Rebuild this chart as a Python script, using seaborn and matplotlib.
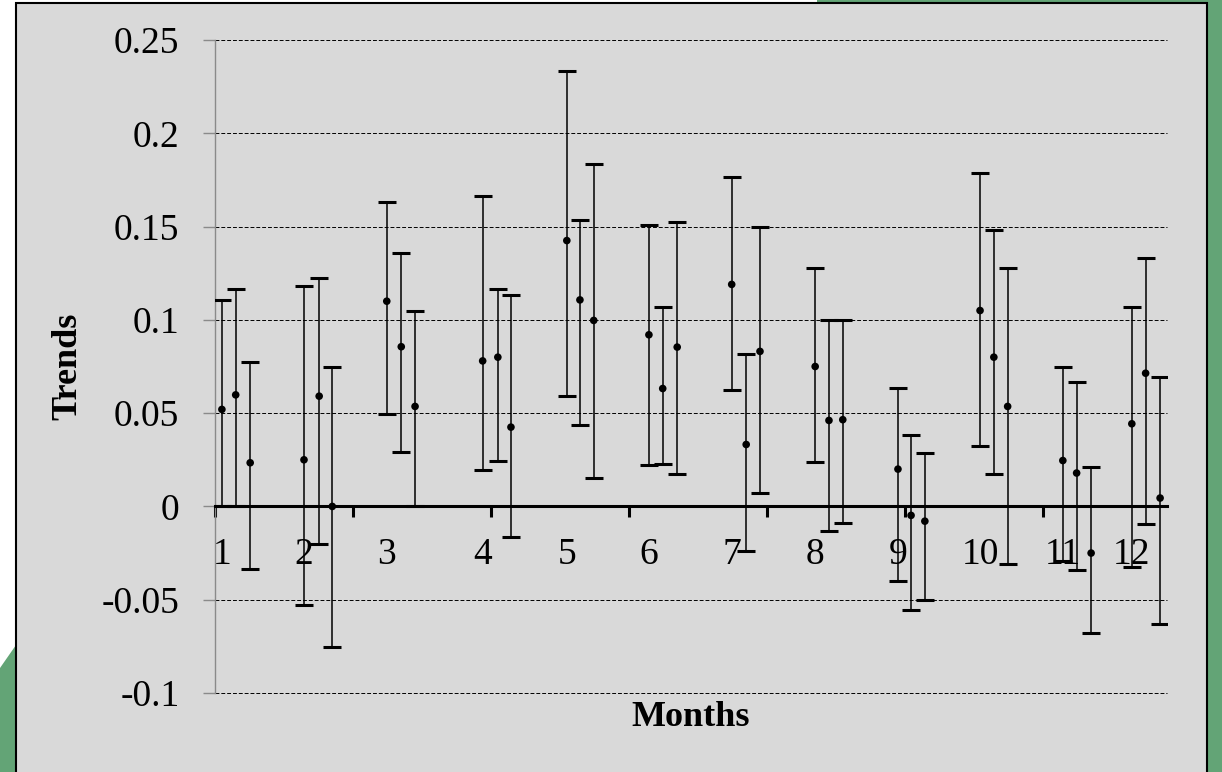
import numpy as np
import pandas as pd
import seaborn as sns
import matplotlib.pyplot as plt
from matplotlib.patches import Polygon, Rectangle

# months and three error-bar series per month (value, lower end, upper end)
months = [1, 2, 3, 4, 5, 6, 7, 8, 9, 10, 11, 12]

x1 = [0.10, 1.29, 2.49, 3.88, 5.10, 6.29, 7.49, 8.70, 9.90, 11.09, 12.29, 13.29]
y1 = [0.052, 0.025, 0.110, 0.078, 0.1425, 0.092, 0.119, 0.075, 0.020, 0.105, 0.0246, 0.0443]
lo1 = [0.0, -0.053, 0.0497, 0.0193, 0.0593, 0.0223, 0.0622, 0.0236, -0.0402, 0.0325, -0.029, -0.0325]
hi1 = [0.1107, 0.1179, 0.1634, 0.1663, 0.2333, 0.1506, 0.1765, 0.128, 0.0636, 0.1785, 0.075, 0.107]

x2 = [0.30, 1.51, 2.70, 4.10, 5.29, 6.49, 7.70, 8.90, 10.09, 11.29, 12.49, 13.49]
y2 = [0.0598, 0.0591, 0.0856, 0.080, 0.1107, 0.0632, 0.0332, 0.0461, -0.0048, 0.080, 0.0179, 0.0714]
lo2 = [0.0, -0.020, 0.0291, 0.0246, 0.0434, 0.0229, -0.024, -0.013, -0.0557, 0.0175, -0.0343, -0.0096]
hi2 = [0.1168, 0.1227, 0.136, 0.1166, 0.1533, 0.1068, 0.0818, 0.0997, 0.0382, 0.1479, 0.0666, 0.1334]

x3 = [0.51, 1.70, 2.90, 4.29, 5.49, 6.70, 7.90, 9.10, 10.29, 11.49, 12.70, 13.70]
y3 = [0.0234, 0.0, 0.0536, 0.0425, 0.0997, 0.0854, 0.0831, 0.0465, -0.0079, 0.0536, -0.025, 0.0045]
lo3 = [-0.0334, -0.0754, 0.0, -0.0164, 0.0154, 0.0175, 0.0073, -0.0087, -0.050, -0.0309, -0.0679, -0.0629]
hi3 = [0.0774, 0.0747, 0.1047, 0.1134, 0.1835, 0.1527, 0.1497, 0.0997, 0.0289, 0.128, 0.0209, 0.0695]

yticks = [-0.1, -0.05, 0, 0.05, 0.1, 0.15, 0.2, 0.25]
ytick_labels = ['-0.1', '-0.05', '0', '0.05', '0.1', '0.15', '0.2', '0.25']

sns.set_style("ticks")
plt.rcParams['font.family'] = ['Liberation Serif', 'DejaVu Serif']
plt.rcParams['text.color'] = 'black'
plt.rcParams['axes.labelcolor'] = 'black'

df = pd.DataFrame({
    'x': x1 + x2 + x3,
    'y': y1 + y2 + y3,
    'lo': lo1 + lo2 + lo3,
    'hi': hi1 + hi2 + hi3,
})

W, H = 1222, 772
fig = plt.figure(figsize=(W / 100, H / 100), dpi=100)
fig.patch.set_facecolor('#63a476')


def px(pts):
    return [(a / W, 1 - b / H) for a, b in pts]


# slide background: white corner, grey chart panel
fig.patches.append(Polygon(px([(0, 0), (817, 0), (817, 3), (16, 3), (16, 645), (0, 668)]),
                           closed=True, facecolor='white', edgecolor='none',
                           transform=fig.transFigure, zorder=-2))
fig.patches.append(Rectangle((16 / W, -0.01), (1207 - 16) / W, 1 - 3 / H + 0.01,
                             facecolor='#d9d9d9', edgecolor='black', linewidth=1.5,
                             transform=fig.transFigure, zorder=-1))

ax = fig.add_axes([215 / W, 1 - 693 / H, (1167 - 215) / W, (693 - 40) / H])
ax.set_facecolor('none')

ax.errorbar(df['x'], df['y'], yerr=[df['y'] - df['lo'], df['hi'] - df['y']],
            fmt='none', ecolor='black', elinewidth=1.1, capsize=6.5, capthick=2.2, zorder=3)
sns.scatterplot(data=df, x='x', y='y', color='black', s=30, edgecolor='none',
                ax=ax, zorder=4, legend=False)

for m, xm in zip(months, x1):
    ax.text(xm, -0.026, str(m), ha='center', va='center', fontsize=27, color='black')

ax.set_xlim(0, 13.8)
ax.set_ylim(-0.1, 0.25)
ax.set_xticks(np.arange(0, 13, 2))
ax.set_yticks(yticks)
ax.set_yticklabels(ytick_labels)

ax.spines['top'].set_visible(False)
ax.spines['right'].set_visible(False)
ax.spines['bottom'].set_position(('data', 0))
ax.spines['bottom'].set_linewidth(2.2)
ax.spines['bottom'].set_color('black')
ax.spines['left'].set_color('#8a8a8a')
ax.spines['left'].set_linewidth(1)

ax.tick_params(axis='x', direction='out', length=8, width=2.2, color='black', labelbottom=False)
ax.tick_params(axis='y', direction='out', length=8.6, width=1, color='#8a8a8a',
               labelsize=27, pad=17, labelcolor='black')

ax.yaxis.grid(True, color='black', linestyle=(0, (4, 2)), linewidth=0.7)
for gl in ax.get_ygridlines():
    gl.set_clip_on(False)
ax.set_axisbelow(True)

ax.set_xlabel('Months', fontsize=26, fontweight='bold', color='black')
ax.set_ylabel('Trends', fontsize=26, fontweight='bold', color='black')
ax.xaxis.set_label_coords(0.5, -0.012)
ax.yaxis.set_label_coords(-0.137, 0.5)

fig.savefig('out.png', dpi=100)
